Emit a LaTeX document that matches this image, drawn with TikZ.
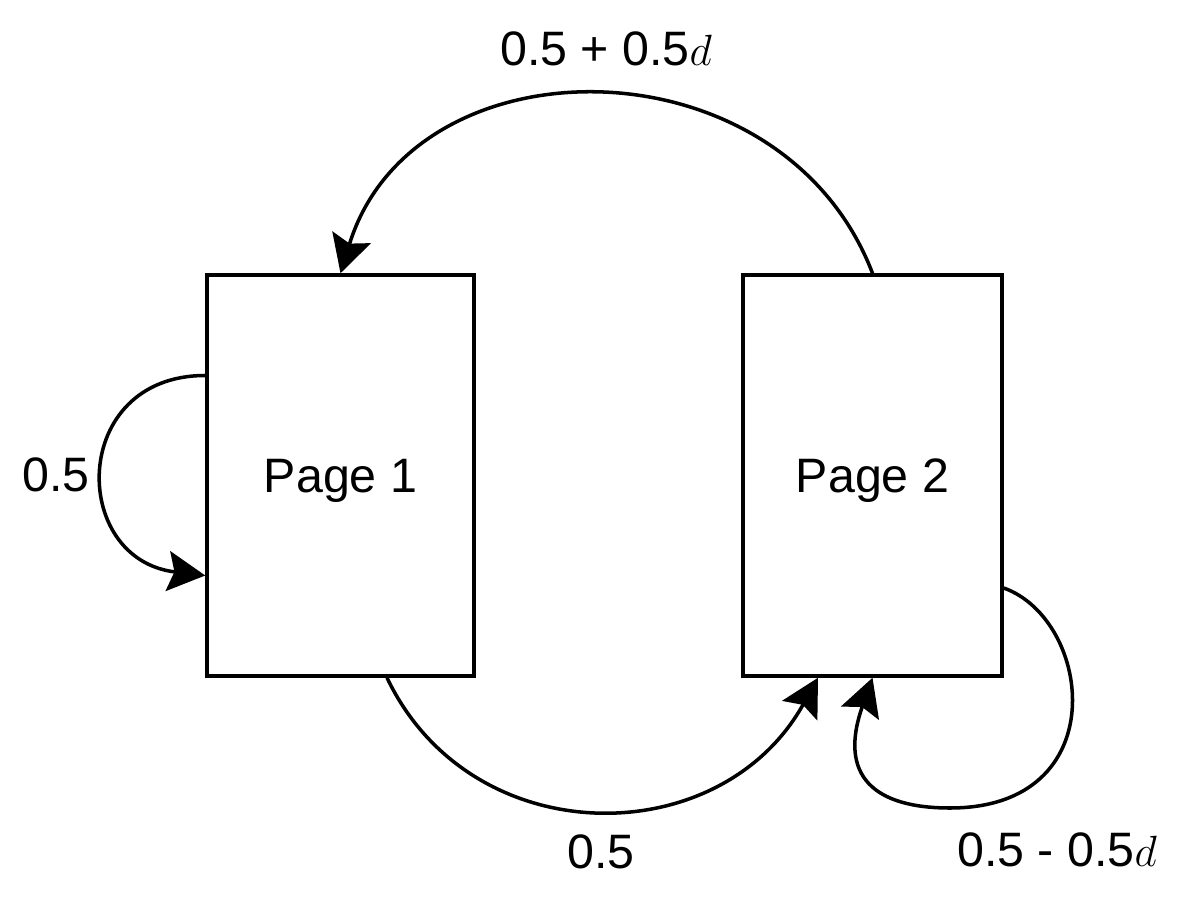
\documentclass[tikz,border=0pt]{standalone}
\usepackage{fontspec}
\setmainfont{Liberation Sans}
\usetikzlibrary{arrows.meta}
\tikzset{
    page box/.style = {draw, line width=2pt, inner sep=0pt, minimum height=8.02cm, text depth=0pt},
    link/.style = {draw, line width=2pt, -{Stealth[length=0.75cm, width=0.8cm, inset=0.13cm]}},
    prob/.style = {inner sep=0pt},
}

\begin{document}
\begin{tikzpicture}[font=\fontsize{27.5}{33}\selectfont]
                \useasboundingbox (0, 0) rectangle (24, 17.92);

                \node[page box, minimum width=5.34cm] (page1) at (6.81, 8.41) {Page 1};
                \node[page box, minimum width=5.18cm] (page2) at (17.45, 8.41) {Page 2};

                \node[prob] (p top) at (12.12, 16.94) {0.5 + 0.5$d$};
                \node[prob] (p left) at (1.12, 8.42) {0.5};
                \node[prob] (p bottom) at (12.02, 0.88) {0.5};
                \node[prob] (p right) at (21.14, 0.92) {0.5 - 0.5$d$};

                \coordinate (loop2) at (19.0, 1.76);

                \draw[link] (page2.north) .. controls +(-1.82, 4.74) and +(1.46, 4.74) .. (page1.north);
                \draw[link] ([xshift=0.93cm]page1.south) .. controls +(1.68, -3.52) and +(-1.96, -3.52) .. ([xshift=-1.09cm]page2.south);
                \draw[link] ([yshift=2cm]page1.west) .. controls +(-2.72, 0) and +(-2.72, 0.32) .. ([yshift=-2cm]page1.west);
                \draw[link] ([yshift=-2.25cm]page2.east) .. controls +(1.78, -0.64) and +(3.3, 0) .. (loop2)
                    .. controls +(-1.5, 0) and +(-0.7, -1.98) .. (page2.south);
\end{tikzpicture}
\end{document}
